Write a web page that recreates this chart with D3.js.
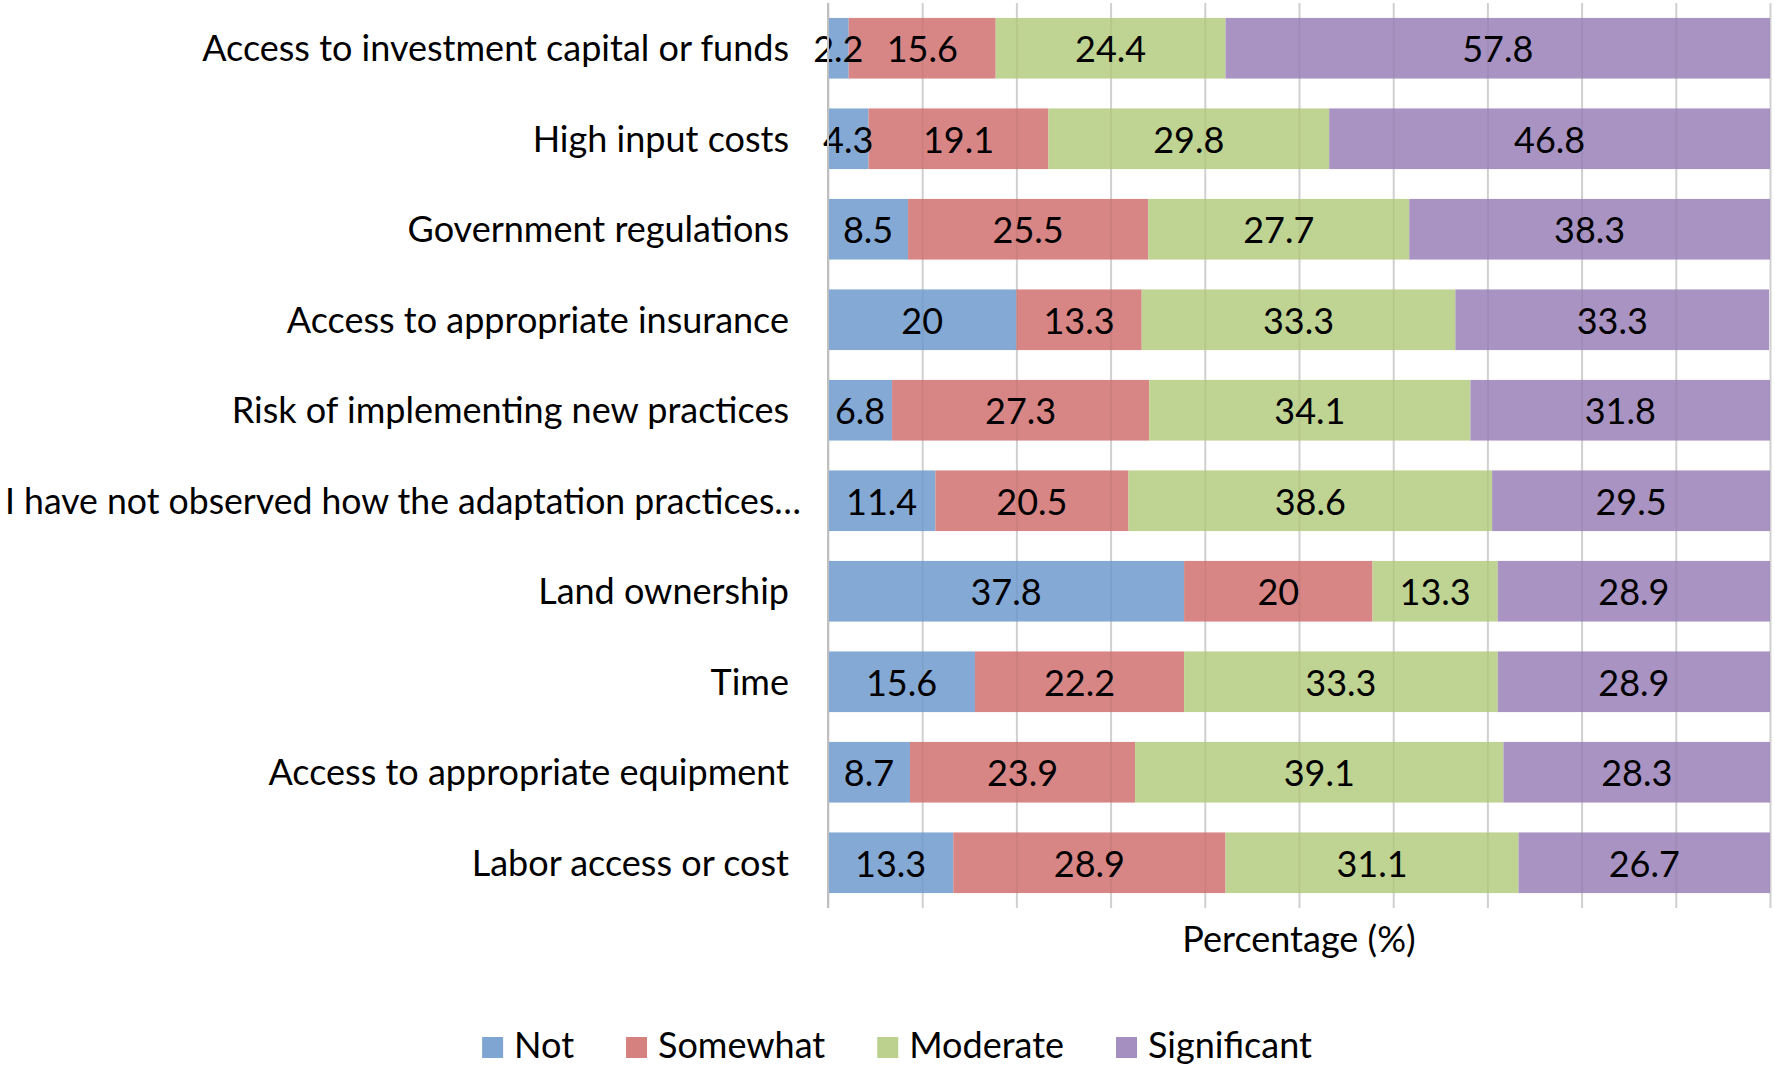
<!DOCTYPE html>
<html>
<head>
<meta charset="utf-8">
<script src="https://cdn.jsdelivr.net/npm/d3@7"></script>
<style>
  body { margin: 0; background: #fff; }
  svg text { font-family: Lato, "Open Sans", sans-serif; fill: #000; }
</style>
</head>
<body>
<div class="chart"></div>
<script>
// barriers chart, stacked to 100%
const categories = [
    "Access to investment capital or funds",
    "High input costs",
    "Government regulations",
    "Access to appropriate insurance",
    "Risk of implementing new practices",
    "I have not observed how the adaptation practices…",
    "Land ownership",
    "Time",
    "Access to appropriate equipment",
    "Labor access or cost"
];
const seriesNames = ["Not", "Somewhat", "Moderate", "Significant"];
const notVals         = [2.2, 4.3, 8.5, 20, 6.8, 11.4, 37.8, 15.6, 8.7, 13.3];
const somewhatVals    = [15.6, 19.1, 25.5, 13.3, 27.3, 20.5, 20, 22.2, 23.9, 28.9];
const moderateVals    = [24.4, 29.8, 27.7, 33.3, 34.1, 38.6, 13.3, 33.3, 39.1, 31.1];
const significantVals = [57.8, 46.8, 38.3, 33.3, 31.8, 29.5, 28.9, 28.9, 28.3, 26.7];
const xTicks = [0, 10, 20, 30, 40, 50, 60, 70, 80, 90, 100];

const colors = ["#7fa5d3", "#d58180", "#bcd18e", "#a48fc0"];

const W = 1775, H = 1071;
const plot = { left: 828, right: 1770, top: 3, bottom: 908 };
const fs = 36;

const svg = d3.select('.chart').append('svg')
    .attr('width', W)
    .attr('height', H);

const rows = categories.map((c, i) => ({
    cat: c,
    Not: notVals[i],
    Somewhat: somewhatVals[i],
    Moderate: moderateVals[i],
    Significant: significantVals[i]
}));

const stacked = d3.stack().keys(seriesNames)(rows);

// scales
const xScale = d3.scaleLinear().domain([0, 100]).range([plot.left, plot.right]);
const yScale = d3.scaleBand()
    .domain(categories)
    .range([plot.top, plot.bottom])
    .paddingInner(0.33)
    .paddingOuter(0.165);

// gridlines
const grid = svg.append('g')
    .attr('transform', `translate(0,${plot.bottom})`)
    .call(d3.axisBottom(xScale).tickValues(xTicks).tickSize(-(plot.bottom - plot.top)).tickFormat(''));
grid.select('.domain').remove();
grid.selectAll('.tick line').attr('stroke', '#d9d9d9').attr('stroke-width', 2);

// bars
const layers = svg.append('g').selectAll('g')
    .data(stacked)
    .enter().append('g')
    .attr('fill', (d, i) => colors[i]);

layers.selectAll('rect')
    .data(d => d)
    .enter().append('rect')
    .attr('x', d => xScale(d[0]))
    .attr('y', d => yScale(d.data.cat))
    .attr('width', d => xScale(d[1]) - xScale(d[0]))
    .attr('height', yScale.bandwidth())
    .attr('fill-opacity', 0.96);

// faint grid showing through bars
const grid2 = svg.append('g')
    .attr('transform', `translate(0,${plot.bottom})`)
    .call(d3.axisBottom(xScale).tickValues(xTicks.slice(1)).tickSize(-(plot.bottom - plot.top)).tickFormat(''));
grid2.select('.domain').remove();
grid2.selectAll('.tick line').attr('stroke', '#000').attr('stroke-opacity', 0.04).attr('stroke-width', 2);

// data labels, on top of every bar
const labelData = [];
stacked.forEach(s => s.forEach(v => labelData.push({ key: s.key, v: v })));
svg.append('g').selectAll('text')
    .data(labelData)
    .enter().append('text')
    .attr('x', d => (xScale(d.v[0]) + xScale(d.v[1])) / 2)
    .attr('y', d => yScale(d.v.data.cat) + yScale.bandwidth() / 2 + 14)
    .attr('text-anchor', 'middle')
    .style('font-size', fs + 'px')
    .text(d => d.v.data[d.key]);

// left axis
const yAxis_group = svg.append('g')
    .attr('transform', `translate(${plot.left},0)`)
    .call(d3.axisLeft(yScale).tickSize(0).tickPadding(39));
yAxis_group.select('.domain').attr('stroke', '#bfbfbf').attr('stroke-width', 2)
    .attr('d', `M0,${plot.top}V${plot.bottom}`);
yAxis_group.selectAll('.tick text')
    .style('font-size', fs + 'px')
    .attr('dy', null)
    .attr('y', 13)
    .attr('x', -39);
// the long truncated label sits a bit further right and fills the left margin
yAxis_group.selectAll('.tick text')
    .filter(d => d.startsWith('I have'))
    .attr('x', -27)
    .attr('textLength', 796)
    .attr('lengthAdjust', 'spacingAndGlyphs');

// axis title
svg.append('text')
    .attr('x', (plot.left + plot.right) / 2)
    .attr('y', 952)
    .attr('text-anchor', 'middle')
    .style('font-size', fs + 'px')
    .text('Percentage (%)');

// legend
const legend = svg.append('g');
const items = legend.selectAll('g')
    .data(seriesNames)
    .enter().append('g');
items.append('rect')
    .attr('width', 21).attr('height', 21)
    .attr('y', 1037)
    .attr('fill', (d, i) => colors[i]);
items.append('text')
    .attr('x', 32)
    .attr('y', 1058)
    .style('font-size', fs + 'px')
    .text(d => d);
let lx = 0;
items.each(function () {
    const w = this.querySelector('text').getComputedTextLength();
    d3.select(this).attr('transform', `translate(${lx},0)`);
    lx += 32 + w + 52;
});
const total = lx - 52;
legend.attr('transform', `translate(${897 - total / 2},0)`);
</script>
</body>
</html>
